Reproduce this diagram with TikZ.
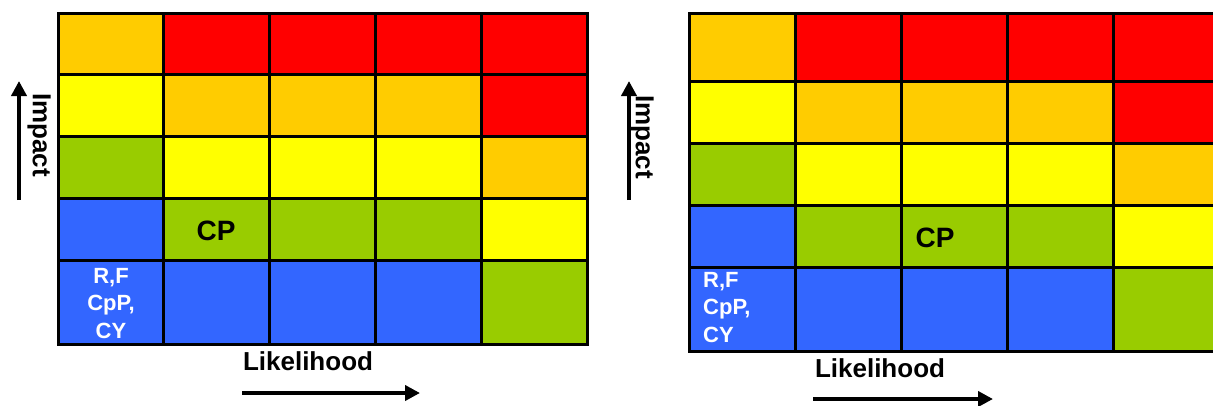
\documentclass[tikz,border=0pt]{standalone}
\usepackage{fontspec}
\setmainfont{Liberation Sans}
\usetikzlibrary{arrows.meta}
\definecolor{lvO}{HTML}{FFCC00}
\definecolor{lvR}{HTML}{FF0000}
\definecolor{lvY}{HTML}{FFFF00}
\definecolor{lvG}{HTML}{99CC00}
\definecolor{lvB}{HTML}{3366FF}
\begin{document}
\begin{tikzpicture}[x=1pt,y=-1pt,
  cell/.style={inner sep=0pt, outer sep=0pt, anchor=north west},
  gridline/.style={draw=black, line width=3pt},
  axislabel/.style={font=\bfseries\fontsize{26}{30}\selectfont, inner sep=0pt},
  celltag/.style={font=\bfseries\fontsize{28}{32}\selectfont, inner sep=0pt},
  lowtag/.style={font=\bfseries\fontsize{22}{27.5}\selectfont, text=white, inner sep=0pt},
  axisarrow/.style={line width=4pt, -{Triangle[length=15pt,width=15pt]}}]
\useasboundingbox (0,0) rectangle (1213,405);
\clip (0,0) rectangle (1213,405);

% left matrix: five columns of 105.8, rows from the top
\foreach \r/\rtop/\rh/\cs in {1/13/61.5/{lvO,lvR,lvR,lvR,lvR},
                              2/74.5/61.5/{lvY,lvO,lvO,lvO,lvR},
                              3/136/62/{lvG,lvY,lvY,lvY,lvO},
                              4/198/62/{lvB,lvG,lvG,lvG,lvY},
                              5/260/84/{lvB,lvB,lvB,lvB,lvG}}{
  \foreach \c [count=\j] in \cs {
    \node[cell, fill=\c, minimum width=105.8pt, minimum height=\rh pt]
      (gL-\r-\j) at ({58+(\j-1)*105.8}, \rtop) {};
  }
}

% right matrix: same scheme, taller top row
\foreach \r/\rtop/\rh/\cs in {1/13/68/{lvO,lvR,lvR,lvR,lvR},
                              2/81/62/{lvY,lvO,lvO,lvO,lvR},
                              3/143/62/{lvG,lvY,lvY,lvY,lvO},
                              4/205/62/{lvB,lvG,lvG,lvG,lvY},
                              5/267/84/{lvB,lvB,lvB,lvB,lvG}}{
  \foreach \c [count=\j] in \cs {
    \node[cell, fill=\c, minimum width=106pt, minimum height=\rh pt]
      (gR-\r-\j) at ({689+(\j-1)*106}, \rtop) {};
  }
}

% cell borders, drawn over all fills
\foreach \g in {gL,gR}
  \foreach \r in {1,...,5}
    \foreach \j in {1,...,5}
      \draw[gridline] (\g-\r-\j.north west) rectangle (\g-\r-\j.south east);

% cell labels
\node[celltag, anchor=base] (cpL) at (216,240) {CP};
\node[lowtag, align=center, anchor=north] (lowL) at (111,268) {R,F\\CpP,\\CY};
\node[celltag, anchor=base] (cpR) at (935,247) {CP};
\node[lowtag, align=left, anchor=north west] (lowR) at (703,272) {R,F\\CpP,\\CY};

% axis labels
\node[axislabel, rotate=-90] (impL) at (39,135) {Impact};
\node[axislabel, rotate=-90] (impR) at (642,137) {Impact};
\node[axislabel, anchor=base] (likL) at (308,370) {Likelihood};
\node[axislabel, anchor=base] (likR) at (880,377) {Likelihood};

% axis arrows
\coordinate (impL-s) at (19,200);
\coordinate (impL-e) at (19,81);
\coordinate (impR-s) at (629,200);
\coordinate (impR-e) at (629,81);
\coordinate (likL-s) at (242,393);
\coordinate (likL-e) at (420,393);
\coordinate (likR-s) at (813,399);
\coordinate (likR-e) at (993,399);
\draw[axisarrow] (impL-s) -- (impL-e);
\draw[axisarrow] (impR-s) -- (impR-e);
\draw[axisarrow] (likL-s) -- (likL-e);
\draw[axisarrow] (likR-s) -- (likR-e);
\end{tikzpicture}
\end{document}
